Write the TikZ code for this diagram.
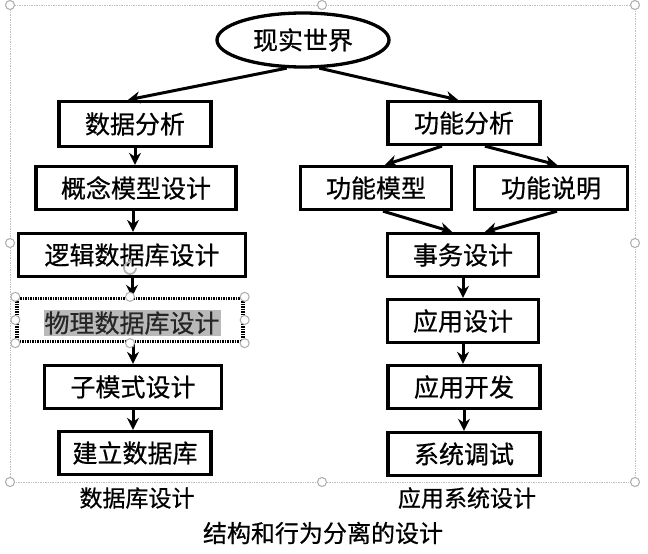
\documentclass[tikz,border=0pt]{standalone}
\usepackage{fontspec}
\setmainfont{Noto Sans CJK SC}[FakeBold=0.6]
\usetikzlibrary{arrows.meta,shapes.geometric}

\tikzset{
  stepbox/.style={draw, line width=3.3pt, minimum height=43pt, inner sep=0pt, font=\fontsize{25}{28}\selectfont},
  flow/.style={line width=3pt, -{Stealth[length=12pt,width=12pt]}},
  handle/.style={circle, draw=gray!65, fill=white, line width=1pt, minimum size=9pt, inner sep=0pt},
  caption/.style={inner sep=0pt, font=\fontsize{23}{26}\selectfont},
}

\begin{document}
\begin{tikzpicture}[x=1pt,y=1pt,yscale=-1,xscale=1]
\useasboundingbox[fill=white] (0,0) rectangle (648,554);

%Selection frame of the whole group
\draw [gray!50, densely dotted, line width=0.7pt] (10,5) rectangle (635,482);

%Ellipse
\node [stepbox, ellipse, minimum width=172pt, minimum height=54pt] (world) at (303,40) {现实世界};

%Flowchart: Process (left column)
\node [stepbox, minimum width=152pt, minimum height=45pt] (sjfx) at (135,124) {数据分析};
\node [stepbox, minimum width=200pt] (gnmx) at (136,188) {概念模型设计};
\node [stepbox, minimum width=227pt] (ljsj) at (132,255) {逻辑数据库设计};
\node [stepbox, minimum width=226pt, dash pattern=on 1.5pt off 1pt] (wlsj) at (130,320) {};
\node [fill=gray!55, text=gray!30!black, inner sep=1pt, font=\fontsize{25}{28}\selectfont] (wltx) at (132,323) {物理数据库设计};
\node [stepbox, minimum width=177pt] (zmsj) at (133,387) {子模式设计};
\node [stepbox, minimum width=152pt] (jlsj) at (135,453) {建立数据库};

%Flowchart: Process (right column)
\node [stepbox, minimum width=152pt] (gnfx) at (464,123) {功能分析};
\node [stepbox, minimum width=151pt] (gnmo) at (376,188) {功能模型};
\node [stepbox, minimum width=153pt] (gnsm) at (551,188) {功能说明};
\node [stepbox, minimum width=151pt] (swsj) at (463,255) {事务设计};
\node [stepbox, minimum width=151pt] (yysj) at (463,321) {应用设计};
\node [stepbox, minimum width=152pt] (yykf) at (464,387) {应用开发};
\node [stepbox, minimum width=152pt] (xtts) at (464,454) {系统调试};

%Straight Lines
\draw [flow] (world.240) -- ([xshift=-7pt]sjfx.north);
\draw [flow] (world.300) -- ([xshift=-6pt]gnfx.north);
\draw [flow] (sjfx.south) -- (sjfx.south |- gnmx.north);
\draw [flow] ([xshift=-3pt]gnmx.south) -- ([xshift=-3pt]gnmx.south |- ljsj.north);
\draw [flow] (ljsj.south) -- (ljsj.south |- wlsj.north);
\draw [flow] ([xshift=3pt]wlsj.south) -- ([xshift=3pt]wlsj.south |- zmsj.north);
\draw [flow] (zmsj.south) -- (zmsj.south |- jlsj.north);

\draw [flow] ([xshift=-22pt]gnfx.south) -- ([xshift=9pt]gnmo.north);
\draw [flow] ([xshift=21pt]gnfx.south) -- ([xshift=6pt]gnsm.north);
\draw [flow] ([xshift=7pt]gnmo.south) -- ([xshift=-11pt]swsj.north);
\draw [flow] ([xshift=6pt]gnsm.south) -- ([xshift=22pt]swsj.north);
\draw [flow] (swsj.south) -- (yysj.north);
\draw [flow] (yysj.south) -- (yysj.south |- yykf.north);
\draw [flow] (yykf.south) -- (xtts.north);

%Selection handles
\foreach \hx/\hy [count=\i] in {10/5, 322/5, 635/5, 10/243, 635/243, 10/482, 322/482, 635/482}
  \node [handle] (grp\i) at (\hx,\hy) {};
\foreach \an [count=\i] in {north west, north, north east, west, east, south west, south, south east}
  \node [handle] (sel\i) at (wlsj.\an) {};
\draw [gray!60, line width=1.8pt, -{Stealth[length=4pt,width=5pt]}] (136,268) arc (0:290:6);

% Text Node
\node [caption] (dbsj) at (137,498) {数据库设计};
% Text Node
\node [caption] (yyxt) at (467,498) {应用系统设计};
% Text Node
\node [caption, font=\fontsize{24}{27}\selectfont] (title) at (323,533) {结构和行为分离的设计};
\end{tikzpicture}
\end{document}
